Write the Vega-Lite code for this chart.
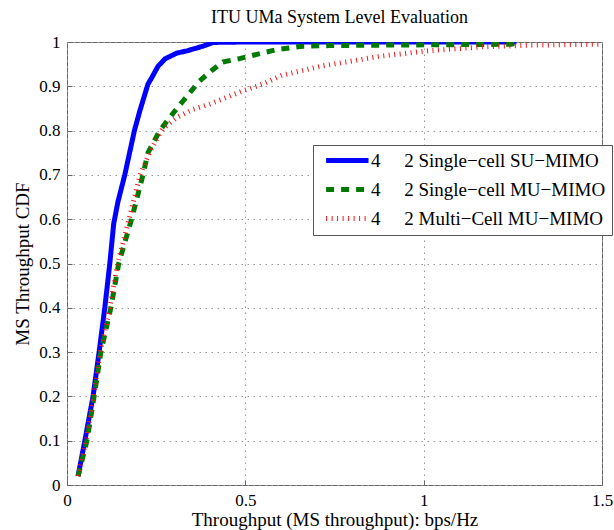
{
  "$schema": "https://vega.github.io/schema/vega-lite/v6.json",
  "width": 535,
  "height": 443,
  "autosize": {"type": "none"},
  "padding": {"left": 67, "top": 42, "right": 12, "bottom": 45},
  "background": "white",
  "title": {"text": "ITU UMa System Level Evaluation", "font": "Liberation Serif", "fontSize": 18, "fontWeight": "normal", "color": "#000", "frame": "group", "anchor": "middle", "baseline": "bottom", "offset": 14, "dy": 26, "dx": 5},
  "config": {
    "view": {"stroke": "#666", "strokeWidth": 1},
    "axis": {
      "labelFont": "Liberation Serif", "labelFontSize": 17, "labelColor": "#000",
      "titleFont": "Liberation Serif", "titleFontSize": 19, "titleFontWeight": "normal", "titleColor": "#000",
      "grid": true, "gridColor": "#999", "gridDash": [1.5, 4.5], "gridOpacity": 1, "gridWidth": 1,
      "domain": false, "ticks": true, "tickSize": -5, "tickColor": "#666",
      "labelPadding": 12, "labelFlush": false, "labelOverlap": false, "labelBound": false
    }
  },
  "data": {"values": [
    {"s": "4\u00a0\u00a0\u00a0\u00a0\u00a02 Single\u2212cell SU\u2212MIMO", "x": 0.031, "y": 0.02},
    {"s": "4\u00a0\u00a0\u00a0\u00a0\u00a02 Single\u2212cell SU\u2212MIMO", "x": 0.050, "y": 0.10},
    {"s": "4\u00a0\u00a0\u00a0\u00a0\u00a02 Single\u2212cell SU\u2212MIMO", "x": 0.073, "y": 0.20},
    {"s": "4\u00a0\u00a0\u00a0\u00a0\u00a02 Single\u2212cell SU\u2212MIMO", "x": 0.090, "y": 0.30},
    {"s": "4\u00a0\u00a0\u00a0\u00a0\u00a02 Single\u2212cell SU\u2212MIMO", "x": 0.106, "y": 0.40},
    {"s": "4\u00a0\u00a0\u00a0\u00a0\u00a02 Single\u2212cell SU\u2212MIMO", "x": 0.120, "y": 0.50},
    {"s": "4\u00a0\u00a0\u00a0\u00a0\u00a02 Single\u2212cell SU\u2212MIMO", "x": 0.131, "y": 0.59},
    {"s": "4\u00a0\u00a0\u00a0\u00a0\u00a02 Single\u2212cell SU\u2212MIMO", "x": 0.143, "y": 0.64},
    {"s": "4\u00a0\u00a0\u00a0\u00a0\u00a02 Single\u2212cell SU\u2212MIMO", "x": 0.162, "y": 0.70},
    {"s": "4\u00a0\u00a0\u00a0\u00a0\u00a02 Single\u2212cell SU\u2212MIMO", "x": 0.189, "y": 0.80},
    {"s": "4\u00a0\u00a0\u00a0\u00a0\u00a02 Single\u2212cell SU\u2212MIMO", "x": 0.204, "y": 0.844},
    {"s": "4\u00a0\u00a0\u00a0\u00a0\u00a02 Single\u2212cell SU\u2212MIMO", "x": 0.227, "y": 0.905},
    {"s": "4\u00a0\u00a0\u00a0\u00a0\u00a02 Single\u2212cell SU\u2212MIMO", "x": 0.238, "y": 0.92},
    {"s": "4\u00a0\u00a0\u00a0\u00a0\u00a02 Single\u2212cell SU\u2212MIMO", "x": 0.255, "y": 0.945},
    {"s": "4\u00a0\u00a0\u00a0\u00a0\u00a02 Single\u2212cell SU\u2212MIMO", "x": 0.275, "y": 0.962},
    {"s": "4\u00a0\u00a0\u00a0\u00a0\u00a02 Single\u2212cell SU\u2212MIMO", "x": 0.308, "y": 0.975},
    {"s": "4\u00a0\u00a0\u00a0\u00a0\u00a02 Single\u2212cell SU\u2212MIMO", "x": 0.336, "y": 0.98},
    {"s": "4\u00a0\u00a0\u00a0\u00a0\u00a02 Single\u2212cell SU\u2212MIMO", "x": 0.379, "y": 0.99},
    {"s": "4\u00a0\u00a0\u00a0\u00a0\u00a02 Single\u2212cell SU\u2212MIMO", "x": 0.410, "y": 0.999},
    {"s": "4\u00a0\u00a0\u00a0\u00a0\u00a02 Single\u2212cell SU\u2212MIMO", "x": 0.50, "y": 1.0},
    {"s": "4\u00a0\u00a0\u00a0\u00a0\u00a02 Single\u2212cell SU\u2212MIMO", "x": 1.0, "y": 1.0},
    {"s": "4\u00a0\u00a0\u00a0\u00a0\u00a02 Single\u2212cell SU\u2212MIMO", "x": 1.26, "y": 1.0},
    {"s": "4\u00a0\u00a0\u00a0\u00a0\u00a02 Single\u2212cell MU\u2212MIMO", "x": 0.031, "y": 0.02},
    {"s": "4\u00a0\u00a0\u00a0\u00a0\u00a02 Single\u2212cell MU\u2212MIMO", "x": 0.056, "y": 0.10},
    {"s": "4\u00a0\u00a0\u00a0\u00a0\u00a02 Single\u2212cell MU\u2212MIMO", "x": 0.076, "y": 0.20},
    {"s": "4\u00a0\u00a0\u00a0\u00a0\u00a02 Single\u2212cell MU\u2212MIMO", "x": 0.095, "y": 0.30},
    {"s": "4\u00a0\u00a0\u00a0\u00a0\u00a02 Single\u2212cell MU\u2212MIMO", "x": 0.123, "y": 0.40},
    {"s": "4\u00a0\u00a0\u00a0\u00a0\u00a02 Single\u2212cell MU\u2212MIMO", "x": 0.145, "y": 0.50},
    {"s": "4\u00a0\u00a0\u00a0\u00a0\u00a02 Single\u2212cell MU\u2212MIMO", "x": 0.181, "y": 0.60},
    {"s": "4\u00a0\u00a0\u00a0\u00a0\u00a02 Single\u2212cell MU\u2212MIMO", "x": 0.213, "y": 0.70},
    {"s": "4\u00a0\u00a0\u00a0\u00a0\u00a02 Single\u2212cell MU\u2212MIMO", "x": 0.227, "y": 0.75},
    {"s": "4\u00a0\u00a0\u00a0\u00a0\u00a02 Single\u2212cell MU\u2212MIMO", "x": 0.260, "y": 0.80},
    {"s": "4\u00a0\u00a0\u00a0\u00a0\u00a02 Single\u2212cell MU\u2212MIMO", "x": 0.308, "y": 0.85},
    {"s": "4\u00a0\u00a0\u00a0\u00a0\u00a02 Single\u2212cell MU\u2212MIMO", "x": 0.339, "y": 0.88},
    {"s": "4\u00a0\u00a0\u00a0\u00a0\u00a02 Single\u2212cell MU\u2212MIMO", "x": 0.369, "y": 0.91},
    {"s": "4\u00a0\u00a0\u00a0\u00a0\u00a02 Single\u2212cell MU\u2212MIMO", "x": 0.405, "y": 0.935},
    {"s": "4\u00a0\u00a0\u00a0\u00a0\u00a02 Single\u2212cell MU\u2212MIMO", "x": 0.437, "y": 0.955},
    {"s": "4\u00a0\u00a0\u00a0\u00a0\u00a02 Single\u2212cell MU\u2212MIMO", "x": 0.481, "y": 0.962},
    {"s": "4\u00a0\u00a0\u00a0\u00a0\u00a02 Single\u2212cell MU\u2212MIMO", "x": 0.532, "y": 0.972},
    {"s": "4\u00a0\u00a0\u00a0\u00a0\u00a02 Single\u2212cell MU\u2212MIMO", "x": 0.583, "y": 0.982},
    {"s": "4\u00a0\u00a0\u00a0\u00a0\u00a02 Single\u2212cell MU\u2212MIMO", "x": 0.654, "y": 0.99},
    {"s": "4\u00a0\u00a0\u00a0\u00a0\u00a02 Single\u2212cell MU\u2212MIMO", "x": 0.736, "y": 0.992},
    {"s": "4\u00a0\u00a0\u00a0\u00a0\u00a02 Single\u2212cell MU\u2212MIMO", "x": 0.889, "y": 0.993},
    {"s": "4\u00a0\u00a0\u00a0\u00a0\u00a02 Single\u2212cell MU\u2212MIMO", "x": 1.092, "y": 0.994},
    {"s": "4\u00a0\u00a0\u00a0\u00a0\u00a02 Single\u2212cell MU\u2212MIMO", "x": 1.245, "y": 0.995},
    {"s": "4\u00a0\u00a0\u00a0\u00a0\u00a02 Single\u2212cell MU\u2212MIMO", "x": 1.27, "y": 1.0},
    {"s": "4\u00a0\u00a0\u00a0\u00a0\u00a02 Multi\u2212Cell MU\u2212MIMO", "x": 0.031, "y": 0.02},
    {"s": "4\u00a0\u00a0\u00a0\u00a0\u00a02 Multi\u2212Cell MU\u2212MIMO", "x": 0.053, "y": 0.10},
    {"s": "4\u00a0\u00a0\u00a0\u00a0\u00a02 Multi\u2212Cell MU\u2212MIMO", "x": 0.074, "y": 0.20},
    {"s": "4\u00a0\u00a0\u00a0\u00a0\u00a02 Multi\u2212Cell MU\u2212MIMO", "x": 0.093, "y": 0.30},
    {"s": "4\u00a0\u00a0\u00a0\u00a0\u00a02 Multi\u2212Cell MU\u2212MIMO", "x": 0.120, "y": 0.40},
    {"s": "4\u00a0\u00a0\u00a0\u00a0\u00a02 Multi\u2212Cell MU\u2212MIMO", "x": 0.142, "y": 0.50},
    {"s": "4\u00a0\u00a0\u00a0\u00a0\u00a02 Multi\u2212Cell MU\u2212MIMO", "x": 0.174, "y": 0.60},
    {"s": "4\u00a0\u00a0\u00a0\u00a0\u00a02 Multi\u2212Cell MU\u2212MIMO", "x": 0.205, "y": 0.70},
    {"s": "4\u00a0\u00a0\u00a0\u00a0\u00a02 Multi\u2212Cell MU\u2212MIMO", "x": 0.237, "y": 0.76},
    {"s": "4\u00a0\u00a0\u00a0\u00a0\u00a02 Multi\u2212Cell MU\u2212MIMO", "x": 0.267, "y": 0.803},
    {"s": "4\u00a0\u00a0\u00a0\u00a0\u00a02 Multi\u2212Cell MU\u2212MIMO", "x": 0.308, "y": 0.83},
    {"s": "4\u00a0\u00a0\u00a0\u00a0\u00a02 Multi\u2212Cell MU\u2212MIMO", "x": 0.354, "y": 0.848},
    {"s": "4\u00a0\u00a0\u00a0\u00a0\u00a02 Multi\u2212Cell MU\u2212MIMO", "x": 0.400, "y": 0.86},
    {"s": "4\u00a0\u00a0\u00a0\u00a0\u00a02 Multi\u2212Cell MU\u2212MIMO", "x": 0.457, "y": 0.878},
    {"s": "4\u00a0\u00a0\u00a0\u00a0\u00a02 Multi\u2212Cell MU\u2212MIMO", "x": 0.491, "y": 0.889},
    {"s": "4\u00a0\u00a0\u00a0\u00a0\u00a02 Multi\u2212Cell MU\u2212MIMO", "x": 0.549, "y": 0.905},
    {"s": "4\u00a0\u00a0\u00a0\u00a0\u00a02 Multi\u2212Cell MU\u2212MIMO", "x": 0.603, "y": 0.925},
    {"s": "4\u00a0\u00a0\u00a0\u00a0\u00a02 Multi\u2212Cell MU\u2212MIMO", "x": 0.715, "y": 0.946},
    {"s": "4\u00a0\u00a0\u00a0\u00a0\u00a02 Multi\u2212Cell MU\u2212MIMO", "x": 0.746, "y": 0.95},
    {"s": "4\u00a0\u00a0\u00a0\u00a0\u00a02 Multi\u2212Cell MU\u2212MIMO", "x": 0.879, "y": 0.968},
    {"s": "4\u00a0\u00a0\u00a0\u00a0\u00a02 Multi\u2212Cell MU\u2212MIMO", "x": 1.011, "y": 0.98},
    {"s": "4\u00a0\u00a0\u00a0\u00a0\u00a02 Multi\u2212Cell MU\u2212MIMO", "x": 1.164, "y": 0.989},
    {"s": "4\u00a0\u00a0\u00a0\u00a0\u00a02 Multi\u2212Cell MU\u2212MIMO", "x": 1.306, "y": 0.993},
    {"s": "4\u00a0\u00a0\u00a0\u00a0\u00a02 Multi\u2212Cell MU\u2212MIMO", "x": 1.5, "y": 0.995}
  ]},
  "mark": {"type": "line", "strokeWidth": 5, "strokeCap": "butt", "strokeJoin": "round", "clip": true},
  "encoding": {
    "x": {"field": "x", "type": "quantitative", "scale": {"domain": [0, 1.5], "nice": false, "zero": false},
      "axis": {"title": "Throughput (MS throughput): bps/Hz", "values": [0, 0.5, 1, 1.5], "format": "~g", "titlePadding": 2}},
    "y": {"field": "y", "type": "quantitative", "scale": {"domain": [0, 1], "nice": false},
      "axis": {"title": "MS Throughput CDF", "values": [0, 0.1, 0.2, 0.3, 0.4, 0.5, 0.6, 0.7, 0.8, 0.9, 1], "format": "~g", "titlePadding": 6}},
    "color": {"field": "s", "type": "nominal",
      "scale": {"domain": ["4\u00a0\u00a0\u00a0\u00a0\u00a02 Single\u2212cell SU\u2212MIMO", "4\u00a0\u00a0\u00a0\u00a0\u00a02 Single\u2212cell MU\u2212MIMO", "4\u00a0\u00a0\u00a0\u00a0\u00a02 Multi\u2212Cell MU\u2212MIMO"], "range": ["#0000ff", "#007a00", "#f01818"]},
      "legend": {"title": null, "orient": "none", "legendX": 246, "legendY": 103, "direction": "vertical",
        "symbolType": "M-0.4,0H6.67", "symbolSize": 144, "symbolStrokeWidth": 5,
        "labelFont": "Liberation Serif", "labelFontSize": 19, "labelColor": "#000", "labelOffset": 33, "labelLimit": 400,
        "rowPadding": 8, "padding": 6, "strokeColor": "#555", "fillColor": "white", "cornerRadius": 0}},
    "strokeDash": {"field": "s", "type": "nominal",
      "scale": {"domain": ["4\u00a0\u00a0\u00a0\u00a0\u00a02 Single\u2212cell SU\u2212MIMO", "4\u00a0\u00a0\u00a0\u00a0\u00a02 Single\u2212cell MU\u2212MIMO", "4\u00a0\u00a0\u00a0\u00a0\u00a02 Multi\u2212Cell MU\u2212MIMO"], "range": [[1, 0], [8, 7], [1, 4.5]]}}
  }
}
